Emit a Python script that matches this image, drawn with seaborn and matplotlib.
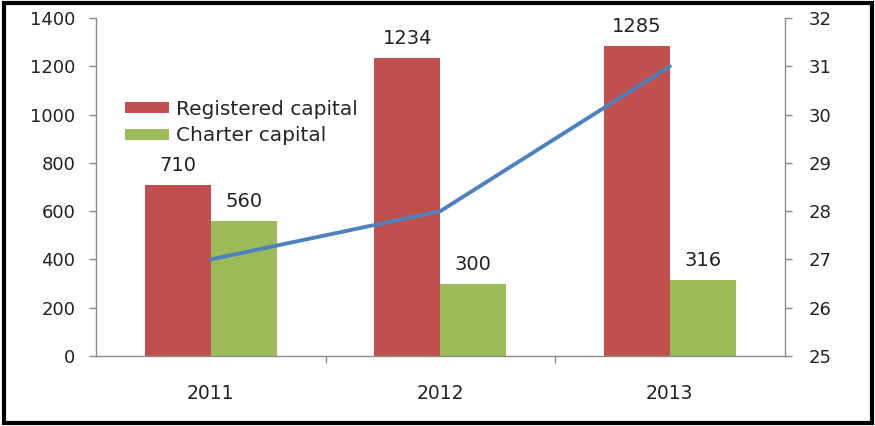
import matplotlib
matplotlib.use("Agg")
import matplotlib.pyplot as plt
import seaborn as sns
import pandas as pd
from matplotlib.patches import Rectangle, Patch

years = ["2011", "2012", "2013"]
registered = [710, 1234, 1285]
charter = [560, 300, 316]
rate = [27, 28, 31]

series_names = ["Registered capital", "Charter capital"]
colors = ["#C0504D", "#9BBB59"]
line_color = "#4F81BD"

df = pd.DataFrame({
    "year": years * 2,
    "value": registered + charter,
    "series": [series_names[0]] * 3 + [series_names[1]] * 3,
})

sns.set_theme(style="white")
plt.rcParams["font.family"] = ["DejaVu Sans"]
FS_TICK = 13
FS_X = 13.5
FS_VAL = 14
FS_LEG = 14.5
TXT = "#222222"

fig = plt.figure(figsize=(8.75, 4.26), dpi=100)
ax = fig.add_axes([0.1097, 0.1643, 0.787, 0.7934])

sns.barplot(data=df, x="year", y="value", hue="series", order=years,
            hue_order=series_names, palette=colors, width=0.575,
            saturation=1, linewidth=0, edgecolor="none", ax=ax, legend=False)

ax.set_ylim(0, 1400)
ax.set_xlim(-0.5, 2.5)
ax.set_yticks(range(0, 1401, 200))
ax.set_xlabel("")
ax.set_ylabel("")

# value labels above each bar
for container in ax.containers:
    ax.bar_label(container, padding=7, fontsize=FS_VAL, color=TXT)

ax2 = ax.twinx()
sns.lineplot(x=list(range(len(years))), y=rate, color=line_color,
             linewidth=2.8, ax=ax2)
ax2.set_ylim(25, 32)
ax2.set_yticks(range(25, 33))
ax2.set_xlim(-0.5, 2.5)
ax2.set_ylabel("")

axis_gray = "#8C8C8C"
for a in (ax, ax2):
    for s in a.spines.values():
        s.set_visible(False)
ax.spines["left"].set_visible(True)
ax.spines["bottom"].set_visible(True)
ax2.spines["right"].set_visible(True)
for s in (ax.spines["left"], ax.spines["bottom"], ax2.spines["right"]):
    s.set_color(axis_gray)
    s.set_linewidth(1.0)

ax.tick_params(axis="y", left=True, length=5, width=1, color=axis_gray,
               labelsize=FS_TICK, labelcolor=TXT, pad=10)
ax2.tick_params(axis="y", right=True, length=5, width=1, color=axis_gray,
                labelsize=FS_TICK, labelcolor=TXT, pad=12)
ax.set_xticks([0, 1, 2])
ax.set_xticklabels(years, fontsize=FS_X, color=TXT)
ax.tick_params(axis="x", which="major", bottom=False, pad=14)
# category separators on the x axis
ax.set_xticks([0.5, 1.5], minor=True)
ax.tick_params(axis="x", which="minor", bottom=True, length=5, width=1,
               color=axis_gray)

handles = [Patch(facecolor=c, edgecolor="none") for c in colors]
ax.legend(handles, series_names, loc="upper left",
          bbox_to_anchor=(0.042, 0.758), frameon=False, fontsize=FS_LEG,
          handlelength=2.2, handleheight=0.5, handletextpad=0.35,
          labelspacing=0.38, borderaxespad=0, borderpad=0)

# outer frame
fig.patches.append(Rectangle((0.004, 0.006), 0.992, 0.988, transform=fig.transFigure,
                             fill=False, edgecolor="black", linewidth=3))

fig.savefig("out.png", dpi=100)
